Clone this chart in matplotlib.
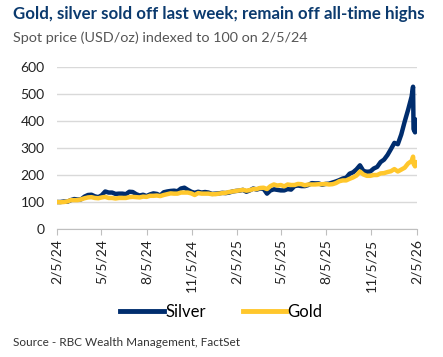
import numpy as np
import pandas as pd
import matplotlib
matplotlib.use("Agg")
import matplotlib.pyplot as plt

# weekly Mondays 2/5/24 .. 1/26/26, then the last few daily prints
weekly_dates = pd.date_range("2024-02-05", periods=104, freq="7D")
tail_dates = pd.to_datetime(["2026-01-28", "2026-01-29", "2026-01-30",
                             "2026-02-02", "2026-02-04", "2026-02-06"])
dates = weekly_dates.append(tail_dates)

silver = [
    # 2024
    100, 100, 102, 101, 107, 111, 109, 110, 120, 126, 127, 121, 118,
    125, 139, 135, 135, 130, 131, 131, 129, 138, 137, 129, 124, 127,
    122, 128, 132, 130, 124, 136, 139, 141, 142, 140, 150, 153, 145,
    138, 134, 138, 135, 137, 135, 130, 131, 132,
    # 2025
    134, 133, 135, 139, 141, 142, 145, 138, 143, 150, 146, 150, 149,
    131, 143, 147, 145, 143, 143, 148, 146, 159, 161, 159, 159, 163,
    170, 169, 169, 164, 167, 168, 172, 176, 181, 187, 190, 205, 210,
    221, 236, 215, 212, 213, 224, 230, 248, 257, 274, 296, 319, 314,
    # 2026
    350, 398, 442, 490,
    515, 527, 370, 358, 405, 398,
]
gold = [
    # 2024
    100, 99, 100, 102, 107, 107, 107, 110, 114, 117, 118, 115, 114,
    117, 119, 115, 115, 113, 115, 115, 115, 118, 119, 118, 117, 120,
    119, 123, 123, 124, 122, 126, 129, 132, 131, 131, 135, 135, 135,
    132, 126, 133, 131, 131, 131, 129, 129, 131,
    # 2025
    133, 134, 137, 139, 141, 143, 145, 142, 144, 148, 148, 152, 153,
    148, 159, 165, 161, 163, 158, 165, 163, 163, 167, 166, 162, 165,
    165, 165, 166, 166, 167, 165, 166, 170, 177, 180, 180, 186, 191,
    198, 213, 202, 197, 197, 200, 200, 206, 207, 211, 214, 222, 213,
    # 2026
    220, 227, 243, 252,
    262, 268, 242, 232, 248, 244,
]

tick_dates = pd.to_datetime(["2024-02-05", "2024-05-05", "2024-08-05", "2024-11-05",
                             "2025-02-05", "2025-05-05", "2025-08-05", "2025-11-05",
                             "2026-02-05"])
tick_labels = ["2/5/24", "5/5/24", "8/5/24", "11/5/24", "2/5/25",
               "5/5/25", "8/5/25", "11/5/25", "2/5/26"]

navy = "#002d6e"
yellow = "#ffc72c"
fam = ["Lato", "DejaVu Sans"]

fig = plt.figure(figsize=(4.43, 3.57), dpi=100)
ax = fig.add_axes([0.1287, 0.3585, 0.8126, 0.4538])

ax.plot(dates, silver, color=navy, lw=3.2, label="Silver", solid_joinstyle="round")
ax.plot(dates, gold, color=yellow, lw=3.2, label="Gold", solid_joinstyle="round")

ax.set_ylim(0, 600)
ax.set_yticks(range(0, 601, 100))
ax.set_xlim(pd.Timestamp("2024-02-05"), pd.Timestamp("2026-02-06"))
ax.set_xticks(tick_dates)
ax.set_xticklabels(tick_labels, rotation=90, family=fam, fontsize=10, color="#222222")
for lab in ax.get_yticklabels():
    lab.set_family(fam)
    lab.set_fontsize(10)
    lab.set_color("#222222")

ax.grid(axis="y", color="#d9d9d9", lw=1)
ax.set_axisbelow(True)
for s in ["top", "right", "left"]:
    ax.spines[s].set_visible(False)
ax.spines["bottom"].set_color("#bfbfbf")
ax.tick_params(axis="y", length=0, pad=9)
ax.tick_params(axis="x", length=4, color="#bfbfbf", pad=3)

leg = fig.legend(loc="center", bbox_to_anchor=(0.5, 0.126), ncol=2, frameon=False,
                 prop={"family": fam, "size": 12}, handlelength=2.6,
                 handletextpad=0.1, columnspacing=2.2)
for h in leg.get_lines():
    h.set_linewidth(3.5)

fig.text(0.03, 0.962, "Gold, silver sold off last week; remain off all-time highs",
         family=fam, fontsize=12.2, fontweight="bold", color="#0b3a6e", va="center")
fig.text(0.03, 0.893, "Spot price (USD/oz) indexed to 100 on 2/5/24",
         family=fam, fontsize=10.4, color="#555555", va="center")
fig.text(0.03, 0.042, "Source - RBC Wealth Management, FactSet",
         family=fam, fontsize=8.5, color="#333333", va="center")

fig.savefig("out.png", dpi=100)
